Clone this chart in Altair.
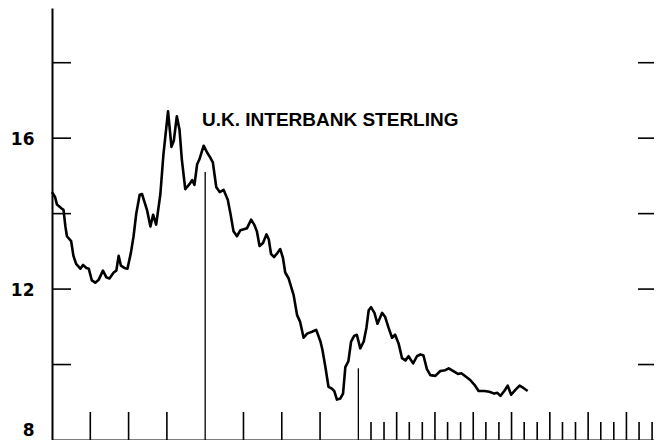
import altair as alt
import pandas as pd

# ---- data ----
x_pos = [0.0, 0.08, 0.13, 0.26, 0.30, 0.35, 0.39, 0.50, 0.56, 0.63,
         0.74, 0.81, 0.90, 0.96, 1.04, 1.13, 1.22, 1.33, 1.42, 1.50,
         1.61, 1.68, 1.74, 1.80, 1.89, 1.97, 2.06, 2.13, 2.20, 2.29,
         2.35, 2.48, 2.57, 2.64, 2.72, 2.83, 2.91, 3.03, 3.12, 3.18,
         3.26, 3.33, 3.39, 3.48, 3.59, 3.66, 3.72, 3.79, 3.85, 3.96,
         4.05, 4.13, 4.20, 4.29, 4.38, 4.48, 4.59, 4.66, 4.74, 4.83,
         4.92, 4.99, 5.09, 5.20, 5.28, 5.35, 5.42, 5.51, 5.60, 5.66,
         5.72, 5.80, 5.89, 5.96, 6.03, 6.09, 6.18, 6.31, 6.40, 6.48,
         6.57, 6.66, 6.79, 6.90, 7.01, 7.06, 7.14, 7.22, 7.31, 7.37,
         7.44, 7.53, 7.60, 7.66, 7.74, 7.81, 7.89, 7.96, 8.05, 8.14,
         8.21, 8.27, 8.33, 8.42, 8.50, 8.62, 8.70, 8.79, 8.88, 8.96,
         9.05, 9.14, 9.23, 9.31, 9.43, 9.53, 9.62, 9.70, 9.79, 9.88,
         10.01, 10.14, 10.27, 10.36, 10.47, 10.60, 10.69, 10.82, 10.92, 11.05,
         11.14, 11.29, 11.42, 11.55, 11.63, 11.71, 11.81, 11.90, 11.99, 12.10,
         12.21, 12.31, 12.42]

rate = [14.57, 14.44, 14.24, 14.13, 14.10, 13.66, 13.40, 13.27, 12.88, 12.67,
        12.54, 12.64, 12.56, 12.54, 12.23, 12.17, 12.25, 12.49, 12.31, 12.28,
        12.44, 12.49, 12.88, 12.62, 12.56, 12.54, 12.96, 13.40, 14.00, 14.50,
        14.52, 14.10, 13.66, 13.97, 13.71, 14.52, 15.57, 16.71, 15.77, 15.93,
        16.58, 16.22, 15.44, 14.65, 14.78, 14.89, 14.76, 15.31, 15.44, 15.80,
        15.62, 15.49, 15.36, 14.70, 14.57, 14.63, 14.37, 14.00, 13.53, 13.40,
        13.56, 13.58, 13.61, 13.84, 13.71, 13.53, 13.14, 13.22, 13.45, 13.32,
        12.93, 12.85, 12.96, 13.06, 12.83, 12.44, 12.28, 11.84, 11.31, 11.13,
        10.71, 10.82, 10.87, 10.92, 10.61, 10.40, 9.93, 9.41, 9.36, 9.30,
        9.07, 9.10, 9.23, 9.93, 10.09, 10.61, 10.76, 10.79, 10.43, 10.61,
        10.97, 11.44, 11.52, 11.37, 11.08, 11.37, 11.26, 10.97, 10.71, 10.79,
        10.56, 10.17, 10.11, 10.22, 10.03, 10.22, 10.27, 10.24, 9.88, 9.72,
        9.70, 9.83, 9.85, 9.90, 9.83, 9.75, 9.77, 9.67, 9.59, 9.44,
        9.30, 9.30, 9.28, 9.23, 9.25, 9.17, 9.30, 9.44, 9.20, 9.33,
        9.44, 9.38, 9.30]

marker_x = [4, 8]
marker_top = [15.1, 9.9]

major_ticks = [1, 2, 3, 5, 6, 7, 9, 10, 11, 12, 13, 14, 15]
minor_ticks = [8.33, 8.67, 9.33, 9.67, 10.33, 10.67, 11.33, 11.67,
               12.33, 12.67, 13.33, 13.67, 14.33, 14.67, 15.33, 15.67]
y_ticks = [10, 12, 14, 16, 18]
y_labels = [8, 12, 16]
title_text = "U.K. INTERBANK STERLING"

# ---- chart ----
W, H = 602, 432
xs = alt.Scale(domain=[0, 15.72], nice=False, zero=False)
ys = alt.Scale(domain=[8, 19.45], nice=False, zero=False)

x_axis = alt.Axis(labels=False, ticks=False, tickSize=0, grid=False, title=None,
                  domain=True, domainColor="black", domainWidth=2)
y_axis = alt.Axis(values=y_labels, ticks=False, tickSize=0, grid=False, title=None,
                  domain=True, domainColor="black", domainWidth=2,
                  labelFont="DejaVu Sans", labelFontWeight="bold", labelFontSize=17,
                  labelColor="black", labelPadding=18,
                  labelOffset={"condition": {"test": "datum.value === 8", "value": -10},
                               "value": 1})


def X(field):
    return alt.X(field, type="quantitative", scale=xs, axis=x_axis)


def Y(field):
    return alt.Y(field, type="quantitative", scale=ys, axis=y_axis)


line_df = pd.DataFrame({"x": x_pos, "rate": rate})
marker_df = pd.DataFrame({"x": marker_x, "top": marker_top})
major_df = pd.DataFrame({"x": major_ticks})
minor_df = pd.DataFrame({"x": minor_ticks})
yt_df = pd.DataFrame({"y": y_ticks})

line = alt.Chart(line_df).mark_line(color="black", strokeWidth=2.6, strokeJoin="round").encode(
    x=X("x"), y=Y("rate"))

markers = alt.Chart(marker_df).mark_rule(color="black", strokeWidth=1.3).encode(
    x=X("x"), y=Y("top"), y2=alt.value(H))

major = alt.Chart(major_df).mark_rule(color="black", strokeWidth=1.6).encode(
    x=X("x"), y=alt.value(H), y2=alt.value(H - 28))

minor = alt.Chart(minor_df).mark_rule(color="black", strokeWidth=1.6).encode(
    x=X("x"), y=alt.value(H), y2=alt.value(H - 18))

left_ticks = alt.Chart(yt_df).mark_rule(color="black", strokeWidth=1.6).encode(
    y=Y("y"), x=alt.value(0), x2=alt.value(19))

right_ticks = alt.Chart(yt_df).mark_rule(color="black", strokeWidth=1.6).encode(
    y=Y("y"), x=alt.value(W - 16), x2=alt.value(W))

title = alt.Chart(pd.DataFrame({"t": [title_text]})).mark_text(
    font="Liberation Sans", fontWeight="bold", fontSize=19, color="black",
    align="left", baseline="alphabetic").encode(
    text="t:N", x=alt.value(150), y=alt.value(118))

chart = alt.layer(line, markers, major, minor, left_ticks, right_ticks, title).properties(
    width=W, height=H,
    padding={"left": 44, "top": 0, "right": 0, "bottom": 0},
    autosize=alt.AutoSizeParams(type="none"),
    background="white",
).configure_view(stroke=None)

chart.save("out.html", embed_options={"renderer": "svg", "actions": False})
